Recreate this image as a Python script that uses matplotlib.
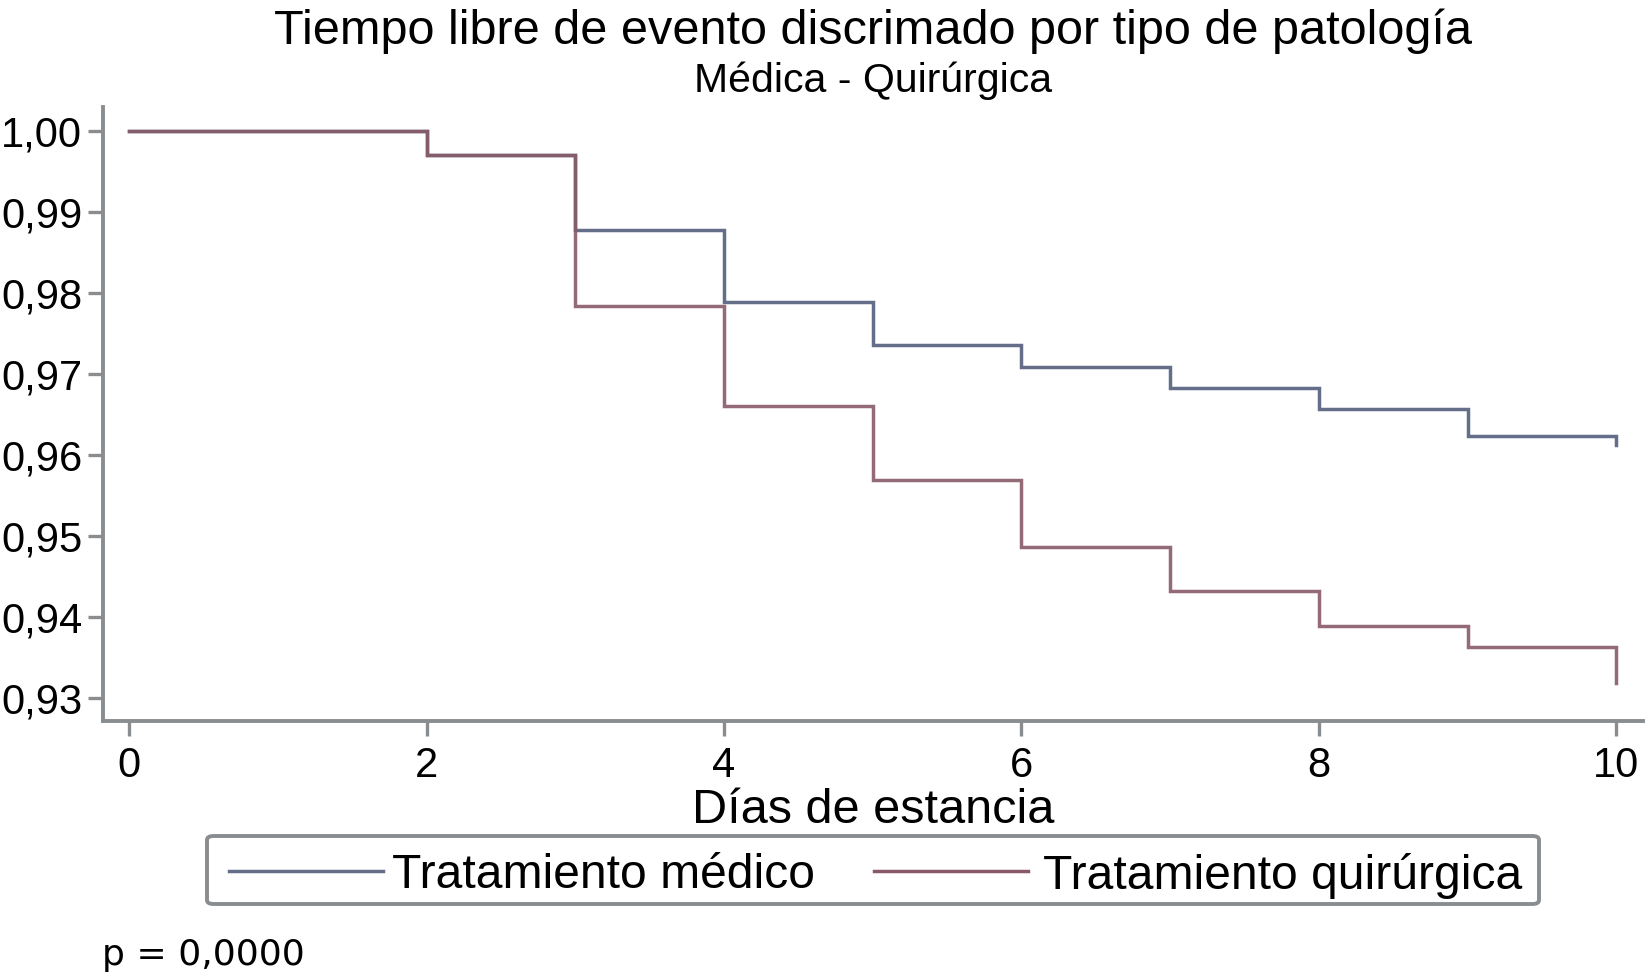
import matplotlib
matplotlib.use("Agg")
import matplotlib.pyplot as plt
from matplotlib.patches import FancyBboxPatch
from matplotlib.lines import Line2D

# ---- data ----
dias = [0, 2, 3, 4, 5, 6, 7, 8, 9, 10, 10]
medico = [1.0, 0.9970, 0.9878, 0.9788, 0.9735, 0.9708, 0.9682, 0.9656, 0.9623, 0.9623, 0.9612]
quirurgico = [1.0, 0.9970, 0.9784, 0.9660, 0.9569, 0.9486, 0.9432, 0.9389, 0.9362, 0.9362, 0.9318]
xticks = [0, 2, 4, 6, 8, 10]
yticks = [0.93, 0.94, 0.95, 0.96, 0.97, 0.98, 0.99, 1.00]
ytick_labels = ["0,93", "0,94", "0,95", "0,96", "0,97", "0,98", "0,99", "1,00"]
serie_labels = ["Tratamiento médico", "Tratamiento quirúrgica"]
titulo = "Tiempo libre de evento discrimado por tipo de patología"
subtitulo = "Médica - Quirúrgica"
xlabel = "Días de estancia"
pvalor = "p = 0,0000"

col_med = "#646e88"
col_qui = "#885a68"
gris = "#8a8d8f"

W, H = 1645, 976
fig = plt.figure(figsize=(W / 100, H / 100), dpi=100)
plt.rcParams['font.family'] = ['Liberation Sans', 'DejaVu Sans']

def fx(px):
    return px / W

def fy(py):
    return 1 - py / H

ax = fig.add_axes([fx(103), fy(721), fx(1643) - fx(103), fy(107) - fy(721)])
ax.plot(dias, medico, drawstyle='steps-post', color=col_med, lw=2.5, solid_joinstyle='miter')
ax.plot(dias, quirurgico, drawstyle='steps-post', color=col_qui, lw=2.5, solid_joinstyle='miter', alpha=0.9)

ax.set_xlim(-0.177, 10.18)
ax.set_ylim(0.92712, 1.00293)
ax.set_xticks(xticks)
ax.set_xticklabels([str(t) for t in xticks])
ax.set_yticks(yticks)
ax.set_yticklabels(ytick_labels)
for s in ['top', 'right']:
    ax.spines[s].set_visible(False)
for s in ['left', 'bottom']:
    ax.spines[s].set_color(gris)
    ax.spines[s].set_linewidth(2.8)
ax.tick_params(axis='both', direction='out', length=11, width=2.4, color=gris,
               labelsize=30, labelcolor='black')
ax.tick_params(axis='y', pad=4)
ax.tick_params(axis='x', pad=7)

ax.set_xlabel(xlabel, fontsize=35)
ax.xaxis.label.set_va('baseline')
ax.xaxis.set_label_coords(0.5, (721 - 823) / 614)

fig.text(fx(873), fy(44), titulo, ha='center', va='baseline', fontsize=35)
fig.text(fx(873), fy(92), subtitulo, ha='center', va='baseline', fontsize=29.5)

# legend box
box = FancyBboxPatch((fx(207), fy(904)), fx(1539) - fx(207), fy(836) - fy(904),
                     boxstyle="round,pad=0,rounding_size=0.004",
                     transform=fig.transFigure, facecolor='white', edgecolor=gris, lw=2.8)
fig.add_artist(box)
ly = fy(871)
fig.add_artist(Line2D([fx(229), fx(383)], [ly, ly], transform=fig.transFigure, color=col_med, lw=2.5))
fig.add_artist(Line2D([fx(874), fx(1028)], [ly, ly], transform=fig.transFigure, color=col_qui, lw=2.5))
fig.text(fx(392), ly, serie_labels[0], ha='left', va='center_baseline', fontsize=34.6)
fig.text(fx(1043), ly, serie_labels[1], ha='left', va='center_baseline', fontsize=34.6)

fig.text(fx(102), fy(965), pvalor, ha='left', va='baseline', fontsize=26, family=['DejaVu Sans'])

fig.savefig("out.png", dpi=100)
